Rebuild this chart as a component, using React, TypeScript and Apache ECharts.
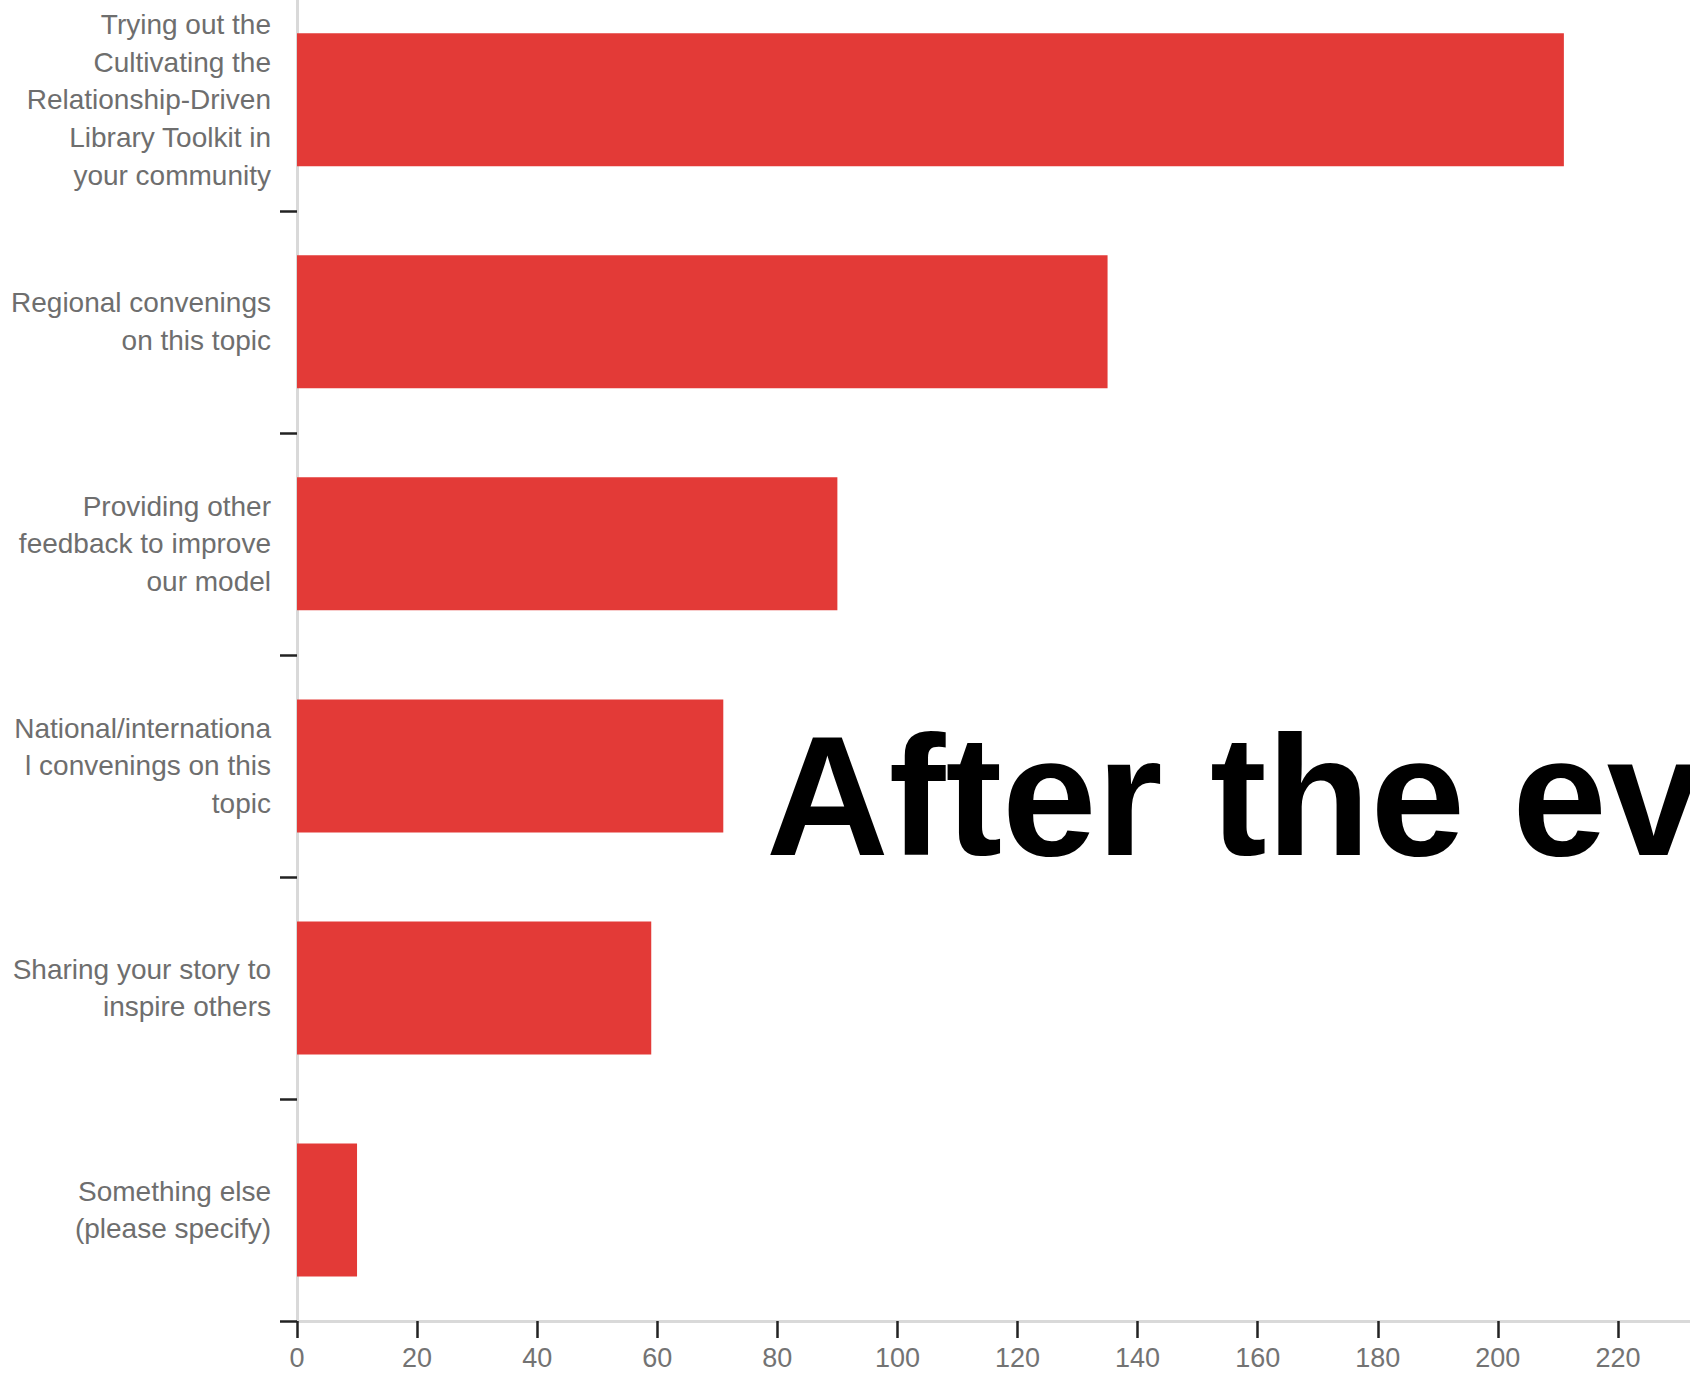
import React, { useEffect, useRef } from "react";
import * as echarts from "echarts";

const categories: string[] = [
  "Trying out the\nCultivating the\nRelationship-Driven\nLibrary Toolkit in\nyour community",
  "Regional convenings\non this topic",
  "Providing other\nfeedback to improve\nour model",
  "National/internationa\nl convenings on this\ntopic",
  "Sharing your story to\ninspire others",
  "Something else\n(please specify)",
];
const values: number[] = [211, 135, 90, 71, 59, 10];
const xMin = 0;
const xMax = 240;
const xInterval = 20;
const overlayTitle = "After the ev";

export default function App() {
  const ref = useRef<HTMLDivElement>(null);
  useEffect(() => {
    if (!ref.current) return;
    const chart = echarts.init(ref.current, null, { renderer: "svg" });
    chart.setOption({
      animation: false,
      backgroundColor: "#ffffff",
      grid: {
        left: 297,
        right: -48,
        top: -11.3,
        bottom: 55,
        containLabel: false,
        outerBoundsMode: "none",
      },
      xAxis: {
        type: "value",
        min: xMin,
        max: xMax,
        interval: xInterval,
        splitLine: { show: false },
        axisLine: { show: true, lineStyle: { color: "#d9d9d9", width: 3 } },
        axisTick: { show: true, length: 17, lineStyle: { color: "#222222", width: 2.5 } },
        axisLabel: {
          show: true,
          showMaxLabel: false,
          margin: 23,
          color: "#737373",
          fontSize: 27,
          fontFamily: "Liberation Sans",
        },
      },
      yAxis: {
        type: "category",
        inverse: true,
        data: categories,
        axisLine: { show: true, lineStyle: { color: "#d9d9d9", width: 3 } },
        axisTick: { show: true, length: 17, lineStyle: { color: "#222222", width: 2.5 } },
        axisLabel: {
          show: true,
          margin: 26,
          align: "right",
          color: "#6e6e6e",
          fontSize: 28,
          lineHeight: 37.7,
          fontFamily: "Liberation Sans",
        },
        splitLine: { show: false },
      },
      series: [
        {
          type: "bar",
          data: values,
          barWidth: 133,
          itemStyle: { color: "#e33a37" },
        },
      ],
      graphic: [
        {
          type: "text",
          left: 766,
          top: 796 - 85,
          z: 100,
          style: {
            text: overlayTitle,
            fill: "#000000",
            font: "bold 170px 'Liberation Sans'",
          },
        },
      ],
    });
    return () => chart.dispose();
  }, []);
  return (
    <div
      ref={ref}
      style={{ position: "absolute", left: 0, top: 0, width: 1690, height: 1376 }}
    />
  );
}
